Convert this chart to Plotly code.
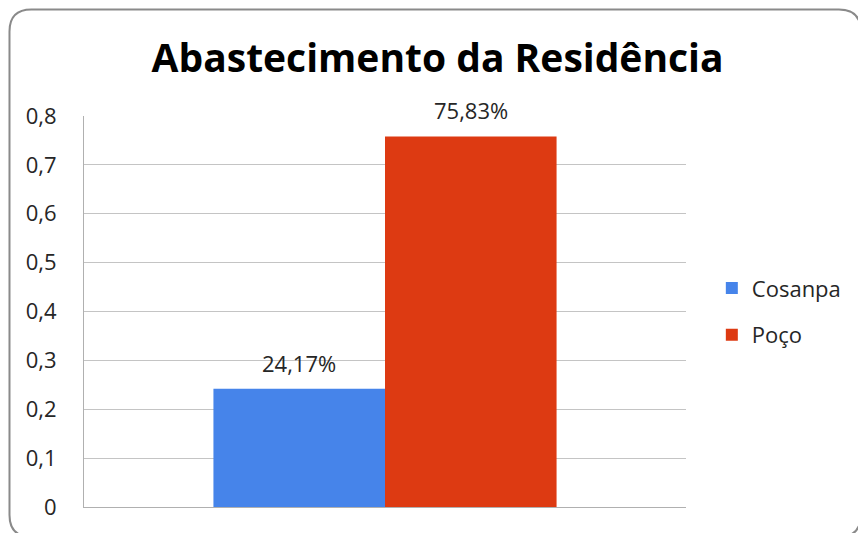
import plotly.graph_objects as go

title_text = "Abastecimento da Residência"
categories = ["Abastecimento"]
series_names = ["Cosanpa", "Poço"]
cosanpa_values = [0.2417]
poco_values = [0.7583]
tick_values = [0, 0.1, 0.2, 0.3, 0.4, 0.5, 0.6, 0.7, 0.8]
tick_labels = ["0", "0,1", "0,2", "0,3", "0,4", "0,5", "0,6", "0,7", "0,8"]

W, H = 858, 533
L, R, T, B = 84, 168, 116, 24
PW, PH = W - L - R, H - T - B

def px_x(x):
    return (x - L) / PW

def px_y(y):
    return 1 - (y - T) / PH

FONT = "Open Sans"
TXT = "#262626"
BARGAP = 0.43

fig = go.Figure()
fig.add_trace(go.Bar(
    x=categories, y=cosanpa_values, name=series_names[0],
    marker=dict(color="#4684EA", line=dict(width=0)),
    legendgroup="a",
))
fig.add_trace(go.Bar(
    x=categories, y=poco_values, name=series_names[1],
    marker=dict(color="#DD3A12", line=dict(width=0)),
    legendgroup="b",
))

# data labels above each bar
bar_w_px = (1 - BARGAP) / 2 * PW
annotations = []
for i, vals in enumerate([cosanpa_values, poco_values]):
    for cat, v in zip(categories, vals):
        annotations.append(dict(
            x=cat, y=v, xref="x", yref="y",
            text=f"{v * 100:.2f}%".replace(".", ","),
            showarrow=False, yanchor="bottom", xanchor="center",
            xshift=(i - 0.5) * bar_w_px, yshift=9,
            font=dict(family=FONT, size=22, color=TXT),
        ))

# rounded border (right and bottom edges run past the frame)
x0, x1, y0, y1, r = 9, 866, 9, 539, 22
path = (
    f"M {px_x(x0+r)},{px_y(y0)} L {px_x(x1-r)},{px_y(y0)} "
    f"Q {px_x(x1)},{px_y(y0)} {px_x(x1)},{px_y(y0+r)} "
    f"L {px_x(x1)},{px_y(y1-r)} Q {px_x(x1)},{px_y(y1)} {px_x(x1-r)},{px_y(y1)} "
    f"L {px_x(x0+r)},{px_y(y1)} Q {px_x(x0)},{px_y(y1)} {px_x(x0)},{px_y(y1-r)} "
    f"L {px_x(x0)},{px_y(y0+r)} Q {px_x(x0)},{px_y(y0)} {px_x(x0+r)},{px_y(y0)} Z"
)

fig.update_layout(
    width=W, height=H,
    margin=dict(l=L, r=R, t=T, b=B, pad=0),
    paper_bgcolor="white", plot_bgcolor="white",
    separators=",.",
    barmode="group", bargap=BARGAP, bargroupgap=0,
    title=dict(text=f"<b>{title_text}</b>", x=0.51, xanchor="center",
               y=1 - 58 / H, yanchor="middle",
               font=dict(family=FONT, size=39, color="#000000")),
    font=dict(family=FONT, size=22, color=TXT),
    legend=dict(x=px_x(716), y=px_y(268), xanchor="left", yanchor="top",
                font=dict(family=FONT, size=22, color=TXT),
                tracegroupgap=15, itemwidth=30, bgcolor="rgba(0,0,0,0)"),
    shapes=[dict(type="path", path=path, xref="paper", yref="paper",
                 line=dict(color="#8a8a8a", width=2), layer="above")],
    annotations=annotations,
    showlegend=True,
)
fig.update_xaxes(showticklabels=False, showline=True, linecolor="#b0b0b0",
                 linewidth=1, ticks="", showgrid=False)
fig.update_yaxes(range=[0, 0.8], tickvals=tick_values, ticktext=tick_labels,
                 showline=True, linecolor="#b0b0b0", linewidth=1,
                 gridcolor="#c4c4c4", gridwidth=1, ticks="", ticklen=0,
                 ticklabelstandoff=22, zeroline=False,
                 tickfont=dict(family=FONT, size=22, color=TXT))

fig.write_html("out.html", config={"displayModeBar": False},
               post_script="document.body.style.margin='0';document.body.style.overflow='hidden';")
